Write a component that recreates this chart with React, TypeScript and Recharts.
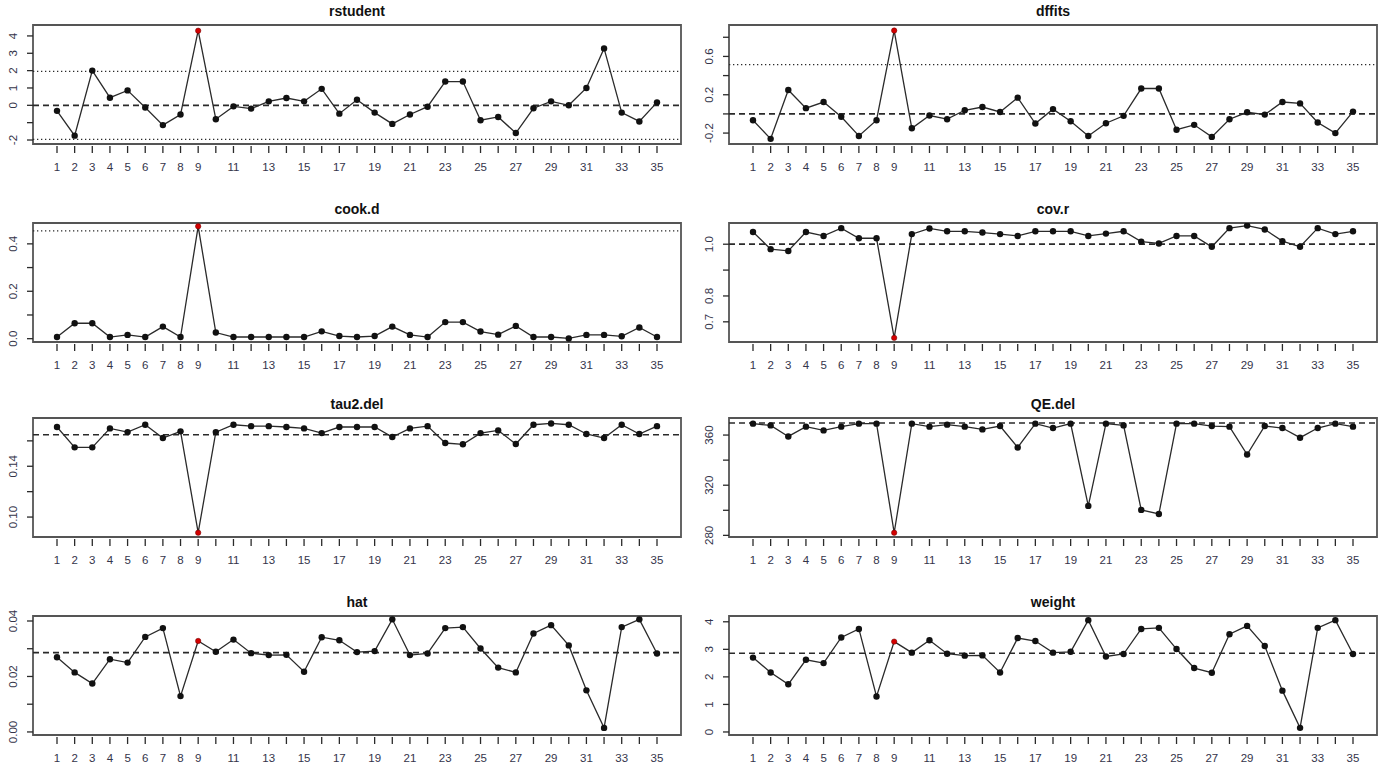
import React from "react"
import { LineChart, Line, XAxis, YAxis, ReferenceLine, ReferenceArea } from "recharts"

// study ids and the labels R kept on the x axis
const ids = [1, 2, 3, 4, 5, 6, 7, 8, 9, 10, 11, 12, 13, 14, 15, 16, 17, 18, 19, 20, 21, 22, 23, 24, 25, 26, 27, 28, 29, 30, 31, 32, 33, 34, 35]
const xLabels = [1, 2, 3, 4, 5, 6, 7, 8, 9, 11, 13, 15, 17, 19, 21, 23, 25, 27, 29, 31, 33, 35]

const rstudent = [-0.32, -1.75, 2.0, 0.44, 0.86, -0.13, -1.14, -0.53, 4.3, -0.8, -0.06, -0.19, 0.23, 0.42, 0.23, 0.95, -0.48, 0.32, -0.42, -1.07, -0.53, -0.08, 1.37, 1.37, -0.86, -0.67, -1.6, -0.17, 0.23, 0.0, 1.0, 3.28, -0.42, -0.93, 0.17]
const dffits = [-0.066, -0.26, 0.25, 0.06, 0.124, -0.03, -0.23, -0.066, 0.87, -0.15, -0.017, -0.055, 0.038, 0.072, 0.02, 0.17, -0.1, 0.05, -0.076, -0.23, -0.097, -0.02, 0.265, 0.265, -0.165, -0.114, -0.24, -0.055, 0.017, -0.007, 0.124, 0.11, -0.09, -0.2, 0.024]
const cookD = [0.007, 0.065, 0.065, 0.007, 0.016, 0.007, 0.051, 0.007, 0.474, 0.026, 0.007, 0.007, 0.007, 0.007, 0.007, 0.031, 0.011, 0.007, 0.011, 0.051, 0.016, 0.007, 0.07, 0.07, 0.03, 0.017, 0.054, 0.007, 0.007, 0.001, 0.016, 0.016, 0.01, 0.047, 0.007]
const covR = [1.047, 0.981, 0.974, 1.047, 1.032, 1.062, 1.023, 1.023, 0.638, 1.039, 1.061, 1.05, 1.05, 1.045, 1.039, 1.032, 1.05, 1.05, 1.05, 1.032, 1.041, 1.05, 1.01, 1.003, 1.032, 1.032, 0.99, 1.062, 1.072, 1.057, 1.012, 0.99, 1.062, 1.039, 1.05]
const tau2Del = [0.1709, 0.1549, 0.1549, 0.1698, 0.1669, 0.1727, 0.1622, 0.1675, 0.0877, 0.1669, 0.1727, 0.1716, 0.1716, 0.1709, 0.1698, 0.1661, 0.1709, 0.1709, 0.1709, 0.163, 0.1698, 0.1716, 0.1583, 0.1573, 0.1661, 0.1682, 0.1575, 0.1727, 0.1737, 0.1727, 0.1654, 0.1622, 0.1727, 0.1654, 0.1716]
const qeDel = [369.1, 367.7, 358.9, 366.7, 363.7, 366.7, 369.1, 369.1, 282.1, 369.1, 366.7, 368.3, 366.7, 364.5, 367.2, 350.1, 369.1, 365.6, 369.1, 303.5, 369.1, 367.7, 300.3, 297.1, 369.1, 369.1, 367.2, 366.7, 344.5, 367.2, 365.6, 357.9, 365.6, 369.1, 366.7]
const hat = [0.02695, 0.02146, 0.01744, 0.02622, 0.025, 0.03427, 0.03744, 0.01293, 0.0328, 0.0289, 0.0333, 0.0284, 0.0277, 0.0278, 0.0217, 0.03415, 0.03305, 0.02878, 0.02915, 0.0406, 0.0277, 0.0283, 0.03744, 0.0378, 0.0301, 0.0232, 0.02146, 0.0355, 0.0385, 0.0312, 0.015, 0.00146, 0.0378, 0.0406, 0.0283]
const weight = [2.7, 2.16, 1.73, 2.62, 2.5, 3.43, 3.74, 1.29, 3.28, 2.88, 3.33, 2.84, 2.77, 2.78, 2.16, 3.41, 3.3, 2.88, 2.91, 4.06, 2.74, 2.83, 3.74, 3.78, 3.01, 2.32, 2.15, 3.55, 3.85, 3.12, 1.5, 0.15, 3.78, 4.06, 2.83]

// y axis ticks and which of them carry a label
const rstudentTicks = [-2, -1, 0, 1, 2, 3, 4]
const rstudentLabels = ["-2", "", "0", "1", "2", "3", "4"]
const dffitsTicks = [-0.2, 0, 0.2, 0.4, 0.6, 0.8]
const dffitsLabels = ["-0.2", "", "0.2", "", "0.6", ""]
const cookTicks = [0, 0.1, 0.2, 0.3, 0.4]
const cookLabels = ["0.0", "", "0.2", "", "0.4"]
const covTicks = [0.7, 0.8, 0.9, 1.0]
const covLabels = ["0.7", "0.8", "", "1.0"]
const tauTicks = [0.1, 0.12, 0.14, 0.16]
const tauLabels = ["0.10", "", "0.14", ""]
const qeTicks = [280, 300, 320, 340, 360]
const qeLabels = ["280", "", "320", "", "360"]
const hatTicks = [0, 0.01, 0.02, 0.03, 0.04]
const hatLabels = ["0.00", "", "0.02", "", "0.04"]
const weightTicks = [0, 1, 2, 3, 4]
const weightLabels = ["0", "1", "2", "3", "4"]

const X_DOMAIN = [-0.36, 36.36]
const BOX_H = 119
const TOP_PAD = 25
const AXIS_H = 36
const INK = "#2a2a2a"
const LABEL_INK = "#34344a"
const FONT = "'Liberation Sans', Arial, sans-serif"

const panels = [
  { title: "rstudent", values: rstudent, domain: [-2.23, 4.63], ticks: rstudentTicks, labels: rstudentLabels, dashed: [0], dotted: [-1.96, 1.96], col: 0, boxTop: 25 },
  { title: "dffits", values: dffits, domain: [-0.314, 0.928], ticks: dffitsTicks, labels: dffitsLabels, dashed: [0], dotted: [0.514], col: 1, boxTop: 25 },
  { title: "cook.d", values: cookD, domain: [-0.014, 0.488], ticks: cookTicks, labels: cookLabels, dashed: [], dotted: [0.455], col: 0, boxTop: 223 },
  { title: "cov.r", values: covR, domain: [0.622, 1.082], ticks: covTicks, labels: covLabels, dashed: [1], dotted: [], col: 1, boxTop: 223 },
  { title: "tau2.del", values: tau2Del, domain: [0.0843, 0.178], ticks: tauTicks, labels: tauLabels, dashed: [0.1648], dotted: [], col: 0, boxTop: 418 },
  { title: "QE.del", values: qeDel, domain: [278.7, 373.6], ticks: qeTicks, labels: qeLabels, dashed: [369.6], dotted: [], col: 1, boxTop: 418 },
  { title: "hat", values: hat, domain: [-0.0011, 0.0418], ticks: hatTicks, labels: hatLabels, dashed: [0.02857], dotted: [], col: 0, boxTop: 616 },
  { title: "weight", values: weight, domain: [-0.11, 4.21], ticks: weightTicks, labels: weightLabels, dashed: [2.857], dotted: [], col: 1, boxTop: 616 },
]

// plot-area geometry for the two columns
const cols = [
  { left: 0, yw: 33, right: 9 },
  { left: 690, yw: 39, right: 3 },
]

function XTick(props: any) {
  const { x, y, payload } = props
  const show = xLabels.includes(payload.value)
  return (
    <g>
      <line x1={x} x2={x} y1={y + 2} y2={y + 9} stroke={INK} strokeWidth={1.3} />
      {show && (
        <text x={x} y={y + 23} textAnchor="middle" dominantBaseline="central" fontSize={11.5} fill={LABEL_INK} fontFamily={FONT}>
          {payload.value}
        </text>
      )}
    </g>
  )
}

function makeYTick(ticks: number[], labels: string[]) {
  return (props: any) => {
    const { x, y, payload } = props
    const i = ticks.indexOf(payload.value)
    const label = i >= 0 ? labels[i] : ""
    return (
      <g>
        <line x1={x - 6} x2={x} y1={y} y2={y} stroke={INK} strokeWidth={1.3} />
        {label && (
          <text x={x - 20} y={y} transform={`rotate(-90 ${x - 20} ${y})`} textAnchor="middle" dominantBaseline="central" fontSize={11.5} fill={LABEL_INK} fontFamily={FONT}>
            {label}
          </text>
        )}
      </g>
    )
  }
}

function Panel({ p }: { p: typeof panels[number] }) {
  const c = cols[p.col]
  const rows = ids.map((id, i) => ({ id, v: p.values[i] }))
  const plotW = 690 - c.yw - c.right
  return (
    <>
      <div
        style={{
          position: "absolute",
          left: c.left + c.yw,
          width: plotW,
          top: p.boxTop - 22,
          textAlign: "center",
          fontFamily: FONT,
          fontWeight: "bold",
          fontSize: 14,
          lineHeight: "16px",
          color: "#111",
        }}
      >
        {p.title}
      </div>
      <div style={{ position: "absolute", left: c.left, top: p.boxTop - TOP_PAD }}>
        <LineChart width={690} height={TOP_PAD + BOX_H + AXIS_H} data={rows} margin={{ top: TOP_PAD, right: c.right, bottom: 0, left: 0 }}>
          <XAxis
            type="number"
            dataKey="id"
            domain={X_DOMAIN}
            ticks={ids}
            interval={0}
            height={AXIS_H}
            axisLine={false}
            tickLine={false}
            tickSize={0}
            tickMargin={0}
            allowDataOverflow
            tick={(tp: any) => <XTick {...tp} />}
          />
          <YAxis
            type="number"
            domain={p.domain}
            ticks={p.ticks}
            interval={0}
            width={c.yw}
            axisLine={false}
            tickLine={false}
            tickSize={0}
            tickMargin={0}
            allowDataOverflow
            tick={makeYTick(p.ticks, p.labels)}
          />
          {p.dashed.map((v) => (
            <ReferenceLine key={"d" + v} y={v} stroke={INK} strokeWidth={1.7} strokeDasharray="6 4" />
          ))}
          {p.dotted.map((v) => (
            <ReferenceLine key={"o" + v} y={v} stroke={INK} strokeWidth={1.3} strokeDasharray="1.3 2.7" />
          ))}
          <Line
            type="linear"
            dataKey="v"
            stroke={INK}
            strokeWidth={1.3}
            isAnimationActive={false}
            dot={(dp: any) =>
              dp.payload.id === 9 ? (
                <circle key={dp.index} cx={dp.cx} cy={dp.cy} r={2.7} fill="#d40000" stroke="#600" strokeWidth={0.5} />
              ) : (
                <circle key={dp.index} cx={dp.cx} cy={dp.cy} r={3.2} fill="#111" />
              )
            }
            activeDot={false}
          />
          <ReferenceArea
            x1={X_DOMAIN[0]}
            x2={X_DOMAIN[1]}
            y1={p.domain[0]}
            y2={p.domain[1]}
            fill="none"
            fillOpacity={0}
            stroke="#555"
            strokeWidth={1.8}
            ifOverflow="visible"
          />
        </LineChart>
      </div>
    </>
  )
}

export default function App() {
  return (
    <div style={{ position: "absolute", left: 0, top: 0, width: 1381, height: 768, background: "#fff", overflow: "hidden" }}>
      {panels.map((p) => (
        <Panel key={p.title} p={p} />
      ))}
    </div>
  )
}
